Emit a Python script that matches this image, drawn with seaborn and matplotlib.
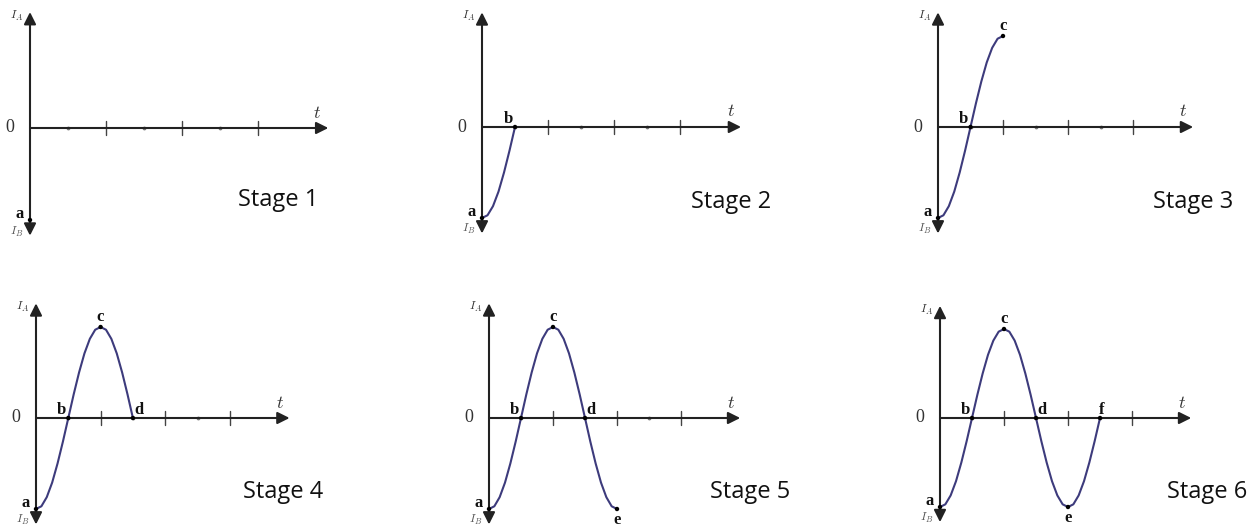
import matplotlib
matplotlib.use("Agg")
import numpy as np
import pandas as pd
import seaborn as sns
import matplotlib.pyplot as plt

# Dữ liệu: dòng điện theo thời gian (đơn vị: 1/4 chu kỳ, bước 1/6)
t = [0.0, 0.167, 0.333, 0.5, 0.667, 0.833, 1.0, 1.167, 1.333, 1.5, 1.667, 1.833,
     2.0, 2.167, 2.333, 2.5, 2.667, 2.833, 3.0, 3.167, 3.333, 3.5, 3.667, 3.833,
     4.0, 4.167, 4.333, 4.5, 4.667, 4.833, 5.0]
current = [-1.00, -0.97, -0.87, -0.71, -0.50, -0.26, 0.00, 0.26, 0.50, 0.71, 0.87, 0.97,
           1.00, 0.97, 0.87, 0.71, 0.50, 0.26, 0.00, -0.26, -0.50, -0.71, -0.87, -0.97,
           -1.00, -0.97, -0.87, -0.71, -0.50, -0.26, 0.00]

# Các điểm đánh dấu a..f
point_labels = ['a', 'b', 'c', 'd', 'e', 'f']
point_t = [0, 1, 2, 3, 4, 5]
point_val = [-1, 0, 1, 0, -1, 0]

stages = ['Stage 1', 'Stage 2', 'Stage 3', 'Stage 4', 'Stage 5', 'Stage 6']
major_ticks = [2, 4, 6]
minor_ticks = [1, 3, 5]

# vị trí gốc toạ độ (px), độ rộng 1/4 chu kỳ (px), biên độ (px)
panels = [(30, 128, 38, 92), (482, 127, 33, 91), (938, 127, 32.5, 91),
          (36, 418, 32.3, 91), (489, 418, 32, 91), (940, 418, 32, 89)]
stage_pos = [(238, 200), (691, 202), (1153, 202), (243, 492), (710, 492), (1167, 492)]

# offset nhãn chữ (px)
label_off = {'a': (-10, 6), 'b': (-7, 8), 'c': (0, 10), 'd': (6, 8), 'e': (0, -11), 'f': (2, 8)}

sns.set_style("white")
plt.rcParams['font.family'] = ['Liberation Serif', 'DejaVu Serif']
plt.rcParams['mathtext.fontset'] = 'cm'

W, H = 1260, 527
fig = plt.figure(figsize=(12.6, 5.27), dpi=100)

curve_color = '#3d3b7c'
px2pt = 72 / 100
pts_per_stage = 6  # số điểm dữ liệu trong 1/4 chu kỳ

for k, (x0, y0, q, A) in enumerate(panels):
    xmin, xmax, ymin, ymax = -1.3, 8.3, -1.45, 1.45
    left = (x0 + xmin * q) / W
    width = (xmax - xmin) * q / W
    bottom = (H - y0 + ymin * A) / H
    height = (ymax - ymin) * A / H
    ax = fig.add_axes([left, bottom, width, height])
    ax.set_xlim(xmin, xmax)
    ax.set_ylim(ymin, ymax)
    ax.axis('off')

    # trục
    ax.annotate('', xy=(7.85, 0), xytext=(0, 0),
                arrowprops=dict(arrowstyle='-|>', lw=1.5, color='#222222',
                                mutation_scale=18, shrinkA=0, shrinkB=0))
    ax.annotate('', xy=(0, 1.26), xytext=(0, -1.17),
                arrowprops=dict(arrowstyle='<|-|>', lw=1.5, color='#222222',
                                mutation_scale=18, shrinkA=0, shrinkB=0))
    for m in major_ticks:
        ax.plot([m, m], [-0.08, 0.08], color='#444444', lw=1.0)
    ax.scatter(minor_ticks, [0] * 3, s=3, color='#777777', zorder=2)

    ax.annotate('0', (0, 0), xytext=(-20 * px2pt, 0), textcoords='offset points',
                ha='center', va='center', fontsize=13, color='#333333')
    ax.annotate(r'$t$', (7.55, 0), xytext=(0, 15 * px2pt), textcoords='offset points',
                ha='center', va='center', fontsize=13, color='#333333')
    ax.annotate(r'$I_A$', (0, 1.26), xytext=(-13 * px2pt, -4 * px2pt), textcoords='offset points',
                ha='center', va='center', fontsize=8.5, color='#333333')
    ax.annotate(r'$I_B$', (0, -1.17), xytext=(-13 * px2pt, 4 * px2pt), textcoords='offset points',
                ha='center', va='center', fontsize=8.5, color='#555555')

    n_pts = k + 1
    n_curve = pts_per_stage * k + 1
    if n_curve > 1:
        df = pd.DataFrame({'t': t[:n_curve], 'I': current[:n_curve]})
        sns.lineplot(data=df, x='t', y='I', ax=ax, color=curve_color, lw=1.5,
                     estimator=None, sort=False)
    sns.scatterplot(x=point_t[:n_pts], y=point_val[:n_pts], ax=ax, color='black',
                    s=10, edgecolor='none', zorder=5)
    for lab, pt, pv in zip(point_labels[:n_pts], point_t[:n_pts], point_val[:n_pts]):
        dx, dy = label_off[lab]
        ax.annotate(lab, (pt, pv), xytext=(dx * px2pt, dy * px2pt), textcoords='offset points',
                    ha='center', va='center', fontsize=12, fontweight='bold', color='#111111')

for s, (sx, sy) in zip(stages, stage_pos):
    fig.text(sx / W, 1 - sy / H, s, ha='left', va='center', fontsize=17,
             family=['Open Sans', 'DejaVu Sans'], color='#111111')

plt.savefig('out.png', dpi=100)
